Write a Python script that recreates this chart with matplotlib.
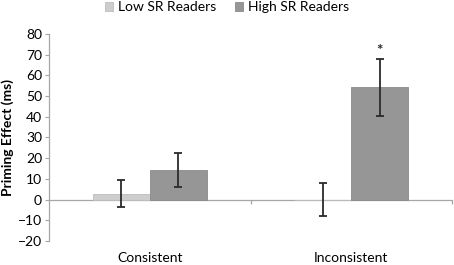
import matplotlib
matplotlib.use("Agg")
import matplotlib.pyplot as plt
import numpy as np

plt.rcParams['font.family'] = ['Lato', 'DejaVu Sans']

categories = ["Consistent", "Inconsistent"]
series_names = ["Low SR Readers", "High SR Readers"]
low_vals = [2.8, -0.1]
low_err = [6.6, 7.9]
high_vals = [14.3, 54.2]
high_err = [8.0, 13.6]
yticks = [-20, -10, 0, 10, 20, 30, 40, 50, 60, 70, 80]

fig = plt.figure(figsize=(4.54, 2.65), dpi=100)
ax = fig.add_axes([0.108, 0.0906, 0.8876, 0.7811])

x = np.arange(len(categories))
w = 0.2836
err_kw = dict(ecolor='#2b2b2b', elinewidth=1.3, capsize=3, capthick=1.3)
ax.bar(x - w/2, low_vals, w, yerr=low_err, color='#cdcdcd', edgecolor='#bdbdbd',
       linewidth=0.6, label=series_names[0], error_kw=err_kw, zorder=2)
ax.bar(x + w/2, high_vals, w, yerr=high_err, color='#969696', edgecolor='#8a8a8a',
       linewidth=0.6, label=series_names[1], error_kw=err_kw, zorder=2)

# significance marker
ax.text(x[1] + w/2, high_vals[1] + high_err[1] + 0.8, "*", ha='center', va='bottom',
        fontsize=11, fontweight='bold', color='#222222')

ax.set_xlim(-0.5, 1.5)
ax.set_ylim(-20, 80)
ax.set_yticks(yticks)
ax.tick_params(axis='y', length=3, color='#a6a6a6', labelsize=10, pad=2, labelcolor='#000000')
ax.set_xticks(x)
ax.set_xticklabels(categories)
ax.tick_params(axis='x', length=0, labelsize=10, pad=8, labelcolor='#000000')
for s in ['top', 'right', 'bottom']:
    ax.spines[s].set_visible(False)
ax.spines['left'].set_color('#a6a6a6')
ax.spines['left'].set_linewidth(0.9)

# horizontal category axis at zero
sec = ax.secondary_xaxis(0.2)
sec.set_xticks([0.5, 1.5])
sec.set_xticklabels([])
sec.tick_params(length=3, color='#a6a6a6', width=0.9)
for s in ['top', 'left', 'right']:
    sec.spines[s].set_visible(False)
sec.spines['bottom'].set_color('#a6a6a6')
sec.spines['bottom'].set_linewidth(0.9)
sec.set_zorder(1)

ax.set_ylabel("Priming Effect (ms)", fontsize=10, fontweight='bold', labelpad=3)

fig.legend(loc='center', bbox_to_anchor=(0.5, 0.972), ncol=2, frameon=False,
           fontsize=10, handlelength=0.6, handleheight=0.6, handletextpad=0.35,
           columnspacing=1.3)

fig.savefig("out.png", dpi=100)
